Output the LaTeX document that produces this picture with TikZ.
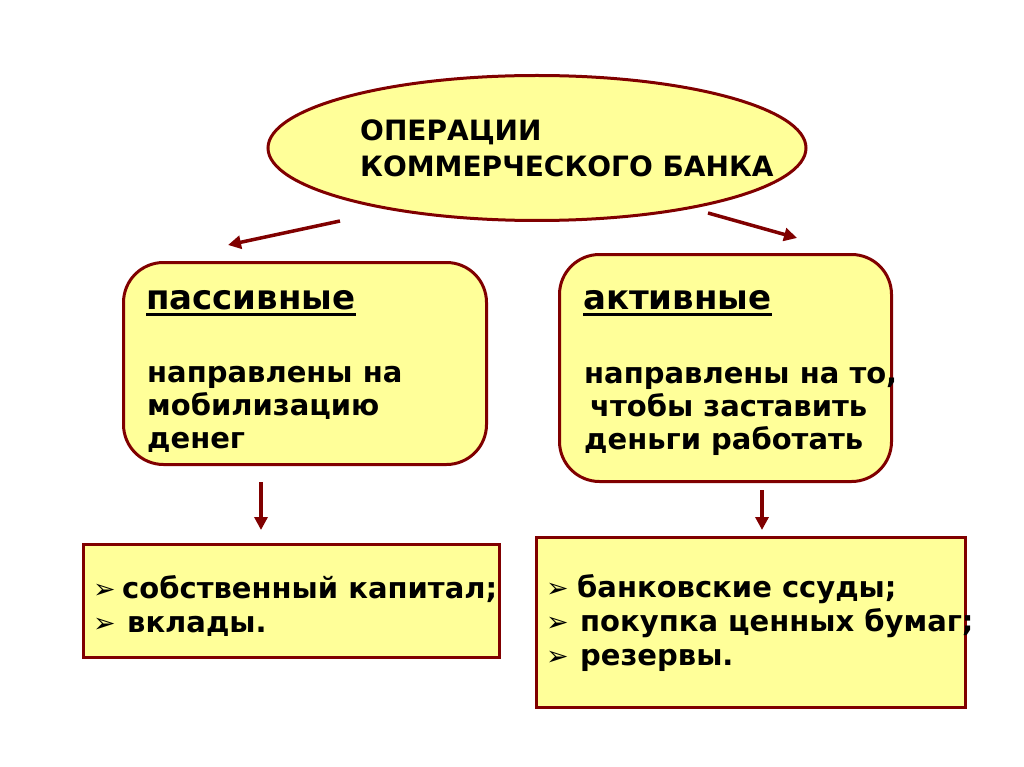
\documentclass[tikz,border=0pt]{standalone}
\usepackage{fontspec}
\setmainfont{DejaVu Sans}
\usetikzlibrary{shapes.geometric,arrows.meta}
\definecolor{boxfill}{RGB}{255,255,153}
\definecolor{boxline}{RGB}{128,0,0}
\tikzset{
  shapebox/.style={draw=boxline,fill=boxfill,line width=3pt},
  conn/.style={draw=boxline,line width=3.5pt,-{Triangle[length=13pt,width=13pt]}},
  txt/.style={inner sep=0pt,anchor=base west,align=left,font=\bfseries\fontsize{29}{33}\selectfont},
  hdr/.style={inner sep=0pt,anchor=base west,font=\bfseries\fontsize{34}{36}\selectfont},
  bul/.style={inner sep=0pt,anchor=base west,align=left,font=\bfseries\fontsize{29}{34}\selectfont}
}
\newcommand{\bulletmark}[1]{\makebox[#1][l]{\fontsize{27}{27}\selectfont ➢}}
\newcommand{\thickul}[1]{\setbox0\hbox{#1}\rlap{\rule[-7pt]{\wd0}{3pt}}\box0}
\begin{document}
\begin{tikzpicture}[x=1pt,y=-1pt]
\useasboundingbox (0,0) rectangle (1024,767);
% shapes
\node[shapebox,ellipse,minimum width=538pt,minimum height=145pt] (top) at (537,148) {};
\node[shapebox,rounded corners=40pt,minimum width=363pt,minimum height=202pt] (pas) at (305,363.5) {};
\node[shapebox,rounded corners=40pt,minimum width=332pt,minimum height=227pt] (act) at (725.5,368) {};
\node[shapebox,minimum width=416pt,minimum height=113pt] (pasl) at (291.5,601) {};
\node[shapebox,minimum width=429pt,minimum height=170pt] (actl) at (751,622.5) {};
% texts (anchor = baseline of the last line)
\node[txt,font=\bfseries\fontsize{28}{36}\selectfont] (ttl) at (360,177) {ОПЕРАЦИИ\\КОММЕРЧЕСКОГО БАНКА};
\node[hdr] (pash) at (146,309) {\thickul{пассивные}};
\node[txt] (past) at (147,448) {направлены на\\мобилизацию\\денег};
\node[hdr] (acth) at (583,309) {\thickul{активные}};
\node[txt] (actt) at (584,449) {направлены на то,\\\hspace*{6pt}чтобы заставить\\деньги работать};
\node[bul] (pasi) at (93,632) {\bulletmark{29pt}собственный капитал;\\\bulletmark{34pt}вклады.};
\node[bul] (acti) at (546,665) {\bulletmark{31pt}банковские ссуды;\\\bulletmark{34pt}покупка ценных бумаг;\\\bulletmark{34pt}резервы.};
% connectors
\coordinate (a1s) at (340,221); \coordinate (a1e) at (228,245);
\coordinate (a2s) at (708,213); \coordinate (a2e) at (797,238);
\coordinate (a3s) at (261,482); \coordinate (a3e) at (261,530);
\coordinate (a4s) at (762,490); \coordinate (a4e) at (762,530);
\draw[conn] (a1s) -- (a1e);
\draw[conn] (a2s) -- (a2e);
\draw[conn] (a3s) -- (a3e);
\draw[conn] (a4s) -- (a4e);
\end{tikzpicture}
\end{document}
